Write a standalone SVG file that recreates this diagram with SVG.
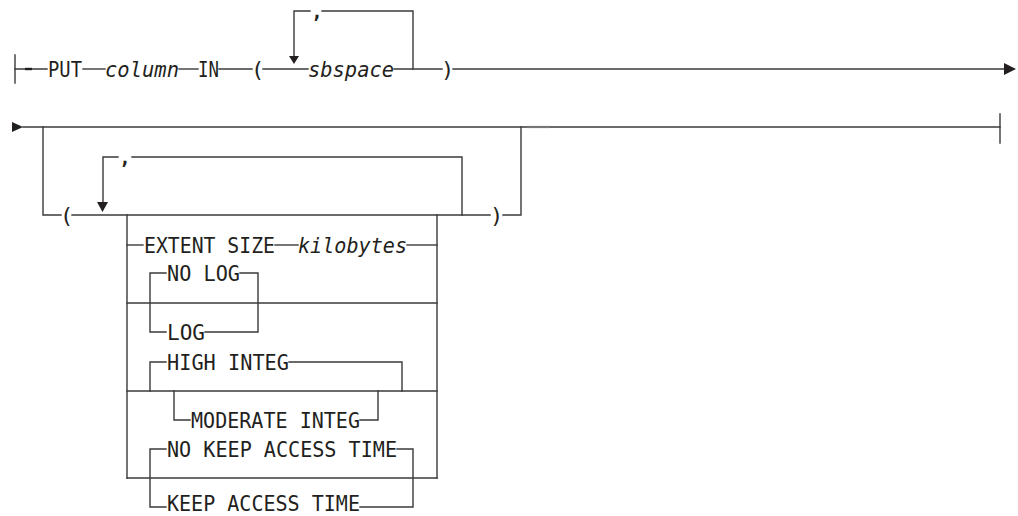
<svg xmlns="http://www.w3.org/2000/svg" width="1018" height="516" viewBox="0 0 1018 516">
<style>
  .ln{stroke:#3a3a3a;stroke-width:1.4;fill:none;stroke-linecap:square}
  .t{font-family:"DejaVu Sans Mono","Liberation Mono",monospace;font-size:22px;fill:#231f20}
  .i{font-style:italic}
  .c{text-anchor:middle}
  .cm{font-size:19px;font-weight:bold}
  .ah{fill:#231f20}
</style>
<rect width="1018" height="516" fill="#ffffff"/>
<g id="connectors">
  <!-- row 1 -->
  <line class="ln" x1="15" y1="55" x2="15" y2="83"/>
  <line class="ln" x1="15" y1="69" x2="47" y2="69"/>
  <line x1="25" y1="69" x2="32" y2="69" stroke="#231f20" stroke-width="2.4"/>
  <line class="ln" x1="83" y1="69" x2="105" y2="69"/>
  <line class="ln" x1="179" y1="69" x2="198" y2="69"/>
  <line class="ln" x1="219" y1="69" x2="252" y2="69"/>
  <line class="ln" x1="263" y1="69" x2="308" y2="69"/>
  <line class="ln" x1="394" y1="69" x2="442" y2="69"/>
  <line class="ln" x1="453" y1="69" x2="1005" y2="69"/>
  <polygon class="ah" points="1004,63 1016,69 1004,75"/>
  <polyline class="ln" points="294,56 294,11 310,11"/>
  <polyline class="ln" points="322,11 413,11 413,69"/>
  <polygon class="ah" points="289,56 299,56 294,64"/>
  <!-- row 2 -->
  <polygon class="ah" points="12,122 23,127 12,132"/>
  <line class="ln" x1="23" y1="127" x2="1000" y2="127"/>
  <line x1="527" y1="127" x2="550" y2="127" stroke="#777" stroke-width="2.2"/>
  <line class="ln" x1="1000" y1="114" x2="1000" y2="143"/>
  <polyline class="ln" points="43,127 43,215 61,215"/>
  <line class="ln" x1="72" y1="215" x2="490" y2="215"/>
  <polyline class="ln" points="503,215 521,215 521,127"/>
  <polyline class="ln" points="103,202 103,157 118,157"/>
  <polyline class="ln" points="132,157 462,157 462,215"/>
  <polygon class="ah" points="97,202 108,202 102.5,212"/>
  <!-- choice box -->
  <line class="ln" x1="127" y1="215" x2="127" y2="478"/>
  <line class="ln" x1="437" y1="215" x2="437" y2="478"/>
  <line class="ln" x1="127" y1="303" x2="437" y2="303"/>
  <line class="ln" x1="127" y1="391" x2="437" y2="391"/>
  <line class="ln" x1="127" y1="478" x2="437" y2="478"/>
  <!-- extent size -->
  <line class="ln" x1="127" y1="245" x2="143" y2="245"/>
  <line class="ln" x1="275" y1="245" x2="298" y2="245"/>
  <line class="ln" x1="407" y1="245" x2="437" y2="245"/>
  <!-- log -->
  <polyline class="ln" points="166,273 150,273 150,332 166,332"/>
  <polyline class="ln" points="240,273 258,273 258,332 205,332"/>
  <!-- integ -->
  <polyline class="ln" points="166,362 150,362 150,391"/>
  <polyline class="ln" points="289,362 402,362 402,391"/>
  <polyline class="ln" points="174,391 174,420 190,420"/>
  <polyline class="ln" points="360,420 378,420 378,391"/>
  <!-- access time -->
  <polyline class="ln" points="166,449 150,449 150,507 166,507"/>
  <polyline class="ln" points="397,449 413,449 413,507 360,507"/>
</g>
<g id="n-put"><text class="t" x="48" y="77" textLength="34" lengthAdjust="spacingAndGlyphs">PUT</text></g>
<g id="n-column"><text class="t i" x="105" y="77" textLength="74" lengthAdjust="spacingAndGlyphs">column</text></g>
<g id="n-in"><text class="t" x="198" y="77" textLength="21" lengthAdjust="spacingAndGlyphs">IN</text></g>
<g id="n-lparen1"><text class="t c" x="257.5" y="77">(</text></g>
<g id="n-comma1"><text class="t c cm" x="317" y="18">,</text></g>
<g id="n-sbspace"><text class="t i" x="308" y="77" textLength="86" lengthAdjust="spacingAndGlyphs">sbspace</text></g>
<g id="n-rparen1"><text class="t c" x="447.5" y="77">)</text></g>
<g id="n-lparen2"><text class="t c" x="66.5" y="223">(</text></g>
<g id="n-comma2"><text class="t c cm" x="125" y="164">,</text></g>
<g id="n-rparen2"><text class="t c" x="496.5" y="223">)</text></g>
<g id="n-extent"><text class="t" x="144" y="253" textLength="131" lengthAdjust="spacingAndGlyphs">EXTENT SIZE</text></g>
<g id="n-kilobytes"><text class="t i" x="298" y="253" textLength="109" lengthAdjust="spacingAndGlyphs">kilobytes</text></g>
<g id="n-nolog"><text class="t" x="167" y="281" textLength="73" lengthAdjust="spacingAndGlyphs">NO LOG</text></g>
<g id="n-log"><text class="t" x="167" y="340" textLength="38" lengthAdjust="spacingAndGlyphs">LOG</text></g>
<g id="n-high"><text class="t" x="167" y="370" textLength="122" lengthAdjust="spacingAndGlyphs">HIGH INTEG</text></g>
<g id="n-moderate"><text class="t" x="191" y="428" textLength="169" lengthAdjust="spacingAndGlyphs">MODERATE INTEG</text></g>
<g id="n-nokeep"><text class="t" x="167" y="457" textLength="230" lengthAdjust="spacingAndGlyphs">NO KEEP ACCESS TIME</text></g>
<g id="n-keep"><text class="t" x="167" y="511" style="font-size:21px" textLength="193" lengthAdjust="spacingAndGlyphs">KEEP ACCESS TIME</text></g>
</svg>
